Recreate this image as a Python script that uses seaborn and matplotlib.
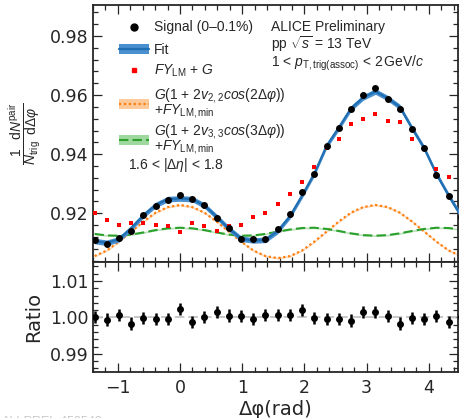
import numpy as np
import pandas as pd
import matplotlib
matplotlib.use("Agg")
import matplotlib.pyplot as plt
import seaborn as sns
from matplotlib.lines import Line2D
from matplotlib.patches import Patch
from matplotlib.legend import Legend
from matplotlib.ticker import MultipleLocator

# ---------------- data ----------------
dphi = [-1.374, -1.178, -0.982, -0.785, -0.589, -0.393, -0.196, 0.000,
        0.196, 0.393, 0.589, 0.785, 0.982, 1.178, 1.374, 1.571, 1.767,
        1.963, 2.160, 2.356, 2.553, 2.749, 2.945, 3.142, 3.338, 3.534,
        3.731, 3.927, 4.123, 4.320, 4.516]

signal = [0.9110, 0.9095, 0.9117, 0.9141, 0.9194, 0.9226, 0.9246, 0.9261,
          0.9247, 0.9227, 0.9183, 0.9151, 0.9114, 0.9112, 0.9114, 0.9146,
          0.9197, 0.9271, 0.9332, 0.9427, 0.9488, 0.9552, 0.9602, 0.9625,
          0.9586, 0.9552, 0.9486, 0.9422, 0.9329, 0.9258, 0.9189]

fit = [0.9106, 0.9100, 0.9112, 0.9150, 0.9193, 0.9228, 0.9248, 0.9250,
       0.9248, 0.9226, 0.9188, 0.9148, 0.9114, 0.9108, 0.9110, 0.9140,
       0.9190, 0.9260, 0.9335, 0.9428, 0.9490, 0.9555, 0.9592, 0.9612,
       0.9590, 0.9560, 0.9488, 0.9420, 0.9333, 0.9260, 0.9192]

fy_lm_g = [0.9200, 0.9177, 0.9160, 0.9168, 0.9166, 0.9160, 0.9157, 0.9138,
           0.9166, 0.9158, 0.9141, 0.9157, 0.9160, 0.9189, 0.9200, 0.9230,
           0.9265, 0.9305, 0.9355, 0.9422, 0.9453, 0.9502, 0.9518, 0.9535,
           0.9513, 0.9510, 0.9453, 0.9420, 0.9350, 0.9324, 0.9268]

v22_term = [0.9055, 0.9074, 0.9104, 0.9138, 0.9172, 0.9202, 0.9221, 0.9228,
            0.9221, 0.9202, 0.9172, 0.9138, 0.9104, 0.9074, 0.9055, 0.9048,
            0.9055, 0.9074, 0.9104, 0.9138, 0.9172, 0.9202, 0.9221, 0.9228,
            0.9221, 0.9202, 0.9172, 0.9138, 0.9104, 0.9074, 0.9055]

v33_term = [0.9130, 0.9125, 0.9124, 0.9128, 0.9135, 0.9143, 0.9149, 0.9151,
            0.9149, 0.9143, 0.9135, 0.9128, 0.9124, 0.9125, 0.9130, 0.9138,
            0.9145, 0.9150, 0.9151, 0.9147, 0.9140, 0.9132, 0.9126, 0.9124,
            0.9126, 0.9132, 0.9140, 0.9147, 0.9151, 0.9150, 0.9145]

ratio = [1.0001, 0.9994, 1.0007, 0.9983, 0.9999, 0.9996, 0.9996, 1.0023,
         0.9987, 1.0001, 1.0014, 1.0005, 1.0003, 0.9996, 1.0007, 1.0007,
         1.0007, 1.0021, 0.9999, 0.9996, 0.9996, 0.9991, 1.0014, 1.0014,
         1.0003, 0.9983, 0.9999, 0.9996, 1.0003, 0.9987, 1.0000]

ratio_err = [0.0017] * len(ratio)

df = pd.DataFrame({"dphi": dphi, "signal": signal, "fit": fit,
                   "fy": fy_lm_g, "v22": v22_term, "v33": v33_term,
                   "ratio": ratio, "err": ratio_err})

# ---------------- style ----------------
sns.set_style("ticks")
plt.rcParams["font.family"] = ["DejaVu Sans"]
plt.rcParams["mathtext.fontset"] = "custom"
plt.rcParams["mathtext.rm"] = "Liberation Sans"
plt.rcParams["mathtext.it"] = "Liberation Sans:italic"
plt.rcParams["mathtext.bf"] = "Liberation Sans:bold"
plt.rcParams["mathtext.sf"] = "Liberation Sans"

LEG = "Liberation Sans"
c_fit_band = "#4a8fcf"
c_fit_line = "#1f6fb2"
c_or = "#ff7f0e"
c_or_band = "#ffc99a"
c_gr = "#2ca02c"
c_gr_band = "#9fd89f"

W, H = 459, 418
fig = plt.figure(figsize=(W / 100, H / 100), dpi=100)
L, R = 93, 458
T1, B1, B2 = 5, 262, 372
ax1 = fig.add_axes([L / W, 1 - B1 / H, (R - L) / W, (B1 - T1) / H])
ax2 = fig.add_axes([L / W, 1 - B2 / H, (R - L) / W, (B2 - B1) / H], sharex=ax1)


def ay(py):
    """pixel row (from figure top) -> ax1 axes fraction"""
    return 1 - (py - T1) / (B1 - T1)


def axf(px):
    return (px - L) / (R - L)


# ---------------- top panel ----------------
x = df["dphi"].to_numpy()
ax1.fill_between(x, df["v22"] - 0.0003, df["v22"] + 0.0003,
                 color=c_or_band, lw=0, alpha=0.7, zorder=1)
sns.lineplot(data=df, x="dphi", y="v22", ax=ax1, color=c_or, lw=1.6,
             ls=(0, (1, 1.2)), sort=False, estimator=None, zorder=2)
ax1.fill_between(x, df["v33"] - 0.0003, df["v33"] + 0.0003,
                 color=c_gr_band, lw=0, alpha=0.7, zorder=1)
sns.lineplot(data=df, x="dphi", y="v33", ax=ax1, color=c_gr, lw=1.5,
             ls=(0, (4.5, 2)), sort=False, estimator=None, zorder=2)
ax1.fill_between(x, df["fit"] - 0.00095, df["fit"] + 0.00095,
                 color=c_fit_band, lw=0, zorder=3)
sns.lineplot(data=df, x="dphi", y="fit", ax=ax1, color=c_fit_line, lw=1.6,
             sort=False, estimator=None, zorder=4)
sns.scatterplot(data=df, x="dphi", y="fy", ax=ax1, color="#ff0000",
                marker="s", s=12, linewidth=0, zorder=5)
sns.scatterplot(data=df, x="dphi", y="signal", ax=ax1, color="black",
                marker="o", s=25, linewidth=0, zorder=6)

ax1.set_xlim(-1.40, 4.47)
ax1.set_ylim(0.9035, 0.9905)
ax1.yaxis.set_major_locator(MultipleLocator(0.02))
ax1.yaxis.set_minor_locator(MultipleLocator(0.004))
ax1.set_xlabel("")
ax1.set_ylabel(r"$\dfrac{1}{N_{\rm trig}}\dfrac{{\rm d}N^{\rm pair}}{{\rm d}\Delta\varphi}$",
               fontsize=10)
ax1.yaxis.set_label_coords(-0.138, 0.5)

# legend: one single-entry legend per row so that rows sit where they do in the reference
h_sig = Line2D([], [], marker="o", color="black", ls="none", markersize=5)
h_fit = (Patch(facecolor=c_fit_band, edgecolor="none"),
         Line2D([], [], color=c_fit_line, lw=1.6))
h_fy = Line2D([], [], marker="s", color="#ff0000", ls="none", markersize=3.4)
h_or = (Patch(facecolor=c_or_band, edgecolor="none"),
        Line2D([], [], color=c_or, lw=1.6, ls=(0, (1, 1.2))))
h_gr = (Patch(facecolor=c_gr_band, edgecolor="none"),
        Line2D([], [], color=c_gr, lw=1.5, ls=(0, (4.5, 2))))
entries = [
    (h_sig, "Signal (0\u20130.1%)", 27.5),
    (h_fit, "Fit", 49.5),
    (h_fy, r"$FY_{\rm LM}$ + $G$", 71),
    (h_or, r"$G(1$ + $2v_{2,2}cos(2\Delta\varphi))$" + "\n" + r"$+FY_{\rm LM,min}$", 103),
    (h_gr, r"$G(1$ + $2v_{3,3}cos(3\Delta\varphi))$" + "\n" + r"$+FY_{\rm LM,min}$", 139),
]
for handle, label, yc in entries:
    lg = Legend(ax1, [handle], [label], loc="center left",
                bbox_to_anchor=(axf(119), ay(yc)),
                frameon=False, borderaxespad=0, borderpad=0,
                handlelength=2.15, handletextpad=0.35,
                prop={"family": LEG, "size": 10})
    for t in lg.get_texts():
        t.set_linespacing(0.82)
    ax1.add_artist(lg)

ax1.text(axf(128), ay(168.5), r"1.6 < $|\Delta\eta|$ < 1.8",
         transform=ax1.transAxes, fontsize=10, family=LEG,
         va="baseline", ha="left")

ax1.text(axf(271), ay(31.5), "ALICE Preliminary", transform=ax1.transAxes,
         fontsize=10, family=LEG, va="baseline")
ax1.text(axf(271), ay(49), r"pp $\sqrt{s}$ = 13 TeV", transform=ax1.transAxes,
         fontsize=10, family=LEG, va="baseline")
ax1.text(axf(271), ay(67),
         r"1 < $p_{\rm T,trig(assoc)}$ < 2$\,$GeV/$c$", transform=ax1.transAxes,
         fontsize=10, family=LEG, va="baseline")

# ---------------- ratio panel ----------------
ax2.axhline(1.0, color="#c8c8c8", ls=(0, (5, 2)), lw=1.4, zorder=1)
ax2.errorbar(df["dphi"], df["ratio"], yerr=df["err"], fmt="none",
             ecolor="black", elinewidth=1.8, capsize=0, zorder=2)
sns.scatterplot(data=df, x="dphi", y="ratio", ax=ax2, color="black",
                marker="o", s=25, linewidth=0, zorder=3)
ax2.set_ylim(0.985, 1.0152)
ax2.yaxis.set_major_locator(MultipleLocator(0.01))
ax2.yaxis.set_minor_locator(MultipleLocator(0.002))
ax2.set_ylabel("Ratio", fontsize=14)
ax2.yaxis.set_label_coords(-0.138, 0.5)
ax2.set_xlabel("\u0394\u03c6(rad)", fontsize=14)
ax2.xaxis.set_label_coords(0.5, -0.255)

for ax in (ax1, ax2):
    ax.xaxis.set_major_locator(MultipleLocator(1))
    ax.xaxis.set_minor_locator(MultipleLocator(0.2))
    ax.tick_params(which="both", direction="in", top=True, right=True,
                   width=0.9, labelsize=12.5)
    ax.tick_params(which="major", length=6.5)
    ax.tick_params(which="minor", length=3.5)
    ax.tick_params(axis="y", pad=3.5)
    ax.tick_params(axis="x", pad=5)
    for s in ax.spines.values():
        s.set_linewidth(1.3)
ax1.tick_params(labelbottom=False)

fig.text(0.004, 1 - 416 / H, "ALI-PREL-459543", color="#c8c8c8",
         fontsize=9, va="top", family=LEG)

fig.savefig("out.png", dpi=100)
